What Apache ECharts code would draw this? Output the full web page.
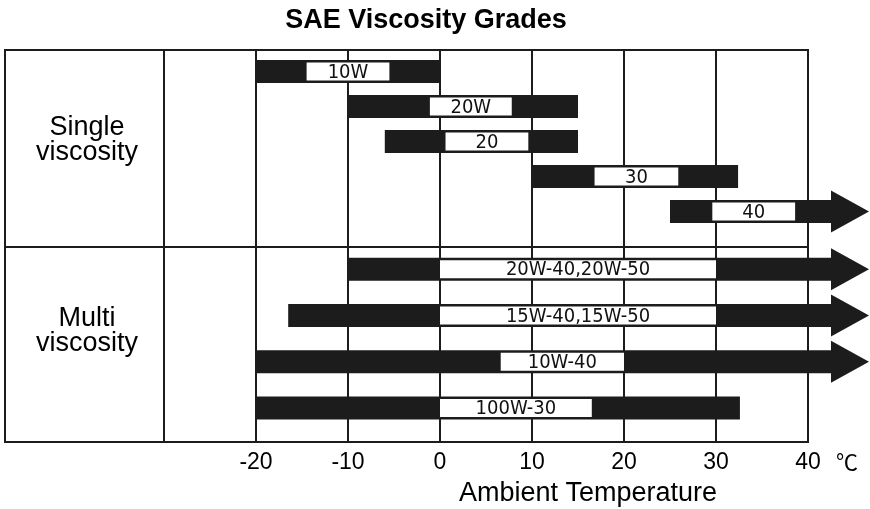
<!DOCTYPE html>
<html>
<head>
<meta charset="utf-8">
<title>SAE Viscosity Grades</title>
<script src="https://cdn.jsdelivr.net/npm/echarts@6/dist/echarts.min.js"></script>
<style>
  html, body { margin: 0; padding: 0; background: #fff; }
  #main { width: 870px; height: 509px; }
</style>
</head>
<body>
<div id="main"></div>
<script>
// single viscosity grades (top block), temperatures in degC
var singleGrades = ['10W', '20W', '20', '30', '40'];
var singleFrom = [-20, -10, -6, 10, 25];
var singleTo = [0, 15, 15, 32.4, 40];
var singleArrow = [0, 0, 0, 0, 1];
var singleBoxFrom = [-14.5, -1.1, 0.6, 16.8, 29.6];
var singleBoxTo = [-5.5, 7.8, 9.6, 25.9, 38.6];

// multi viscosity grades (bottom block)
var multiGrades = ['20W-40,20W-50', '15W-40,15W-50', '10W-40', '100W-30'];
var multiFrom = [-10, -16.5, -20, -20];
var multiTo = [40, 40, 40, 32.6];
var multiArrow = [1, 1, 1, 0];
var multiBoxFrom = [0, 0, 6.6, 0];
var multiBoxTo = [30, 30, 20, 16.5];

// temperature axis ticks
var tempTicks = [-30, -20, -10, 0, 10, 20, 30, 40];

var ink = '#1c1c1c';
var labelFont = '20px "Liberation Sans Narrow", "DejaVu Sans Condensed", "Liberation Sans", sans-serif';

function rowsOf(from, to, boxFrom, boxTo, arrow) {
  return from.map(function (v, i) {
    return [i, v, to[i], boxFrom[i], boxTo[i], arrow[i]];
  });
}

function makeRender(names) {
  return function (params, api) {
    var cat = api.value(0);
    var start = api.coord([api.value(1), cat]);
    var end = api.coord([api.value(2), cat]);
    var bs = api.coord([api.value(3), cat]);
    var be = api.coord([api.value(4), cat]);
    var cy = start[1];
    var h = 23;
    var kids = [];
    if (api.value(5)) {
      // open ended -> arrow past the last gridline
      var sx = end[0] + 23;
      kids.push({
        type: 'polygon',
        shape: { points: [
          [start[0], cy - h / 2], [sx, cy - h / 2], [sx, cy - 21], [sx + 38, cy],
          [sx, cy + 21], [sx, cy + h / 2], [start[0], cy + h / 2]
        ] },
        style: { fill: ink }
      });
    } else {
      kids.push({
        type: 'rect',
        shape: { x: start[0], y: cy - h / 2, width: end[0] - start[0], height: h },
        style: { fill: ink }
      });
    }
    kids.push({
      type: 'rect',
      shape: { x: bs[0], y: cy - 9, width: be[0] - bs[0], height: 18 },
      style: { fill: '#fff' }
    });
    kids.push({
      type: 'text',
      x: (bs[0] + be[0]) / 2,
      y: cy + 1,
      style: {
        text: names[params.dataIndex],
        font: labelFont,
        fill: '#111',
        align: 'center',
        verticalAlign: 'middle',
        textAlign: 'center',
        textVerticalAlign: 'middle'
      }
    });
    return { type: 'group', children: kids };
  };
}

function txt(x, y, text, font, extra) {
  var el = {
    type: 'text',
    x: x,
    y: y,
    style: {
      text: text,
      font: font,
      fill: '#000',
      align: 'center',
      verticalAlign: 'middle',
      textAlign: 'center',
      textVerticalAlign: 'middle'
    }
  };
  if (extra) {
    for (var k in extra) el.style[k] = extra[k];
  }
  return el;
}

var dom = document.getElementById('main');
var myChart = echarts.init(dom);
var option = null;

var hiddenX = function (idx) {
  return {
    type: 'value', gridIndex: idx, show: false,
    min: tempTicks[0], max: tempTicks[tempTicks.length - 1], interval: 10
  };
};

option = {
  backgroundColor: '#fff',
  animation: false,
  grid: [
    // frame with the temperature gridlines
    { left: 164, right: 62, top: 50, bottom: 67, show: true, borderColor: ink, borderWidth: 2 },
    // single viscosity rows
    { left: 164, right: 62, top: 54, height: 175 },
    // multi viscosity rows
    { left: 164, right: 62, top: 246, height: 185 }
  ],
  xAxis: [
    {
      type: 'value',
      gridIndex: 0,
      min: tempTicks[0],
      max: tempTicks[tempTicks.length - 1],
      interval: 10,
      axisLine: { show: false },
      axisTick: { show: false },
      axisLabel: {
        showMinLabel: false,
        color: '#000',
        fontSize: 23,
        fontFamily: 'Liberation Sans, Arial, sans-serif',
        margin: 9
      },
      splitLine: { show: true, lineStyle: { color: ink, width: 2 } }
    },
    hiddenX(1),
    hiddenX(2)
  ],
  yAxis: [
    { type: 'value', gridIndex: 0, show: false, min: 0, max: 1, splitLine: { show: false } },
    { type: 'category', gridIndex: 1, show: false, inverse: true, data: singleGrades },
    { type: 'category', gridIndex: 2, show: false, inverse: true, data: multiGrades }
  ],
  graphic: [
    {
      type: 'rect',
      shape: { x: 5, y: 50, width: 159, height: 392 },
      style: { fill: 'none', stroke: ink, lineWidth: 2 }
    },
    {
      type: 'line',
      shape: { x1: 5, y1: 247, x2: 808, y2: 247 },
      style: { stroke: ink, lineWidth: 2 }
    },
    txt(426, 21, 'SAE Viscosity Grades', 'bold 27px "Liberation Sans", Arial, sans-serif'),
    txt(87, 140, 'Single\nviscosity', '27px "Liberation Sans", Arial, sans-serif', { lineHeight: 25 }),
    txt(87, 331, 'Multi\nviscosity', '27px "Liberation Sans", Arial, sans-serif', { lineHeight: 25 }),
    txt(588, 494, 'Ambient Temperature', '27px "Liberation Sans", Arial, sans-serif'),
    txt(847, 462, '℃', '22px "Noto Sans CJK SC", "DejaVu Sans", sans-serif')
  ],
  series: [
    {
      name: 'Single viscosity',
      type: 'custom',
      xAxisIndex: 1,
      yAxisIndex: 1,
      clip: false,
      renderItem: makeRender(singleGrades),
      encode: { x: [1, 2, 3, 4], y: 0 },
      data: rowsOf(singleFrom, singleTo, singleBoxFrom, singleBoxTo, singleArrow)
    },
    {
      name: 'Multi viscosity',
      type: 'custom',
      xAxisIndex: 2,
      yAxisIndex: 2,
      clip: false,
      renderItem: makeRender(multiGrades),
      encode: { x: [1, 2, 3, 4], y: 0 },
      data: rowsOf(multiFrom, multiTo, multiBoxFrom, multiBoxTo, multiArrow)
    }
  ]
};

if (option && typeof option === 'object') {
  myChart.setOption(option, true);
}
</script>
</body>
</html>
